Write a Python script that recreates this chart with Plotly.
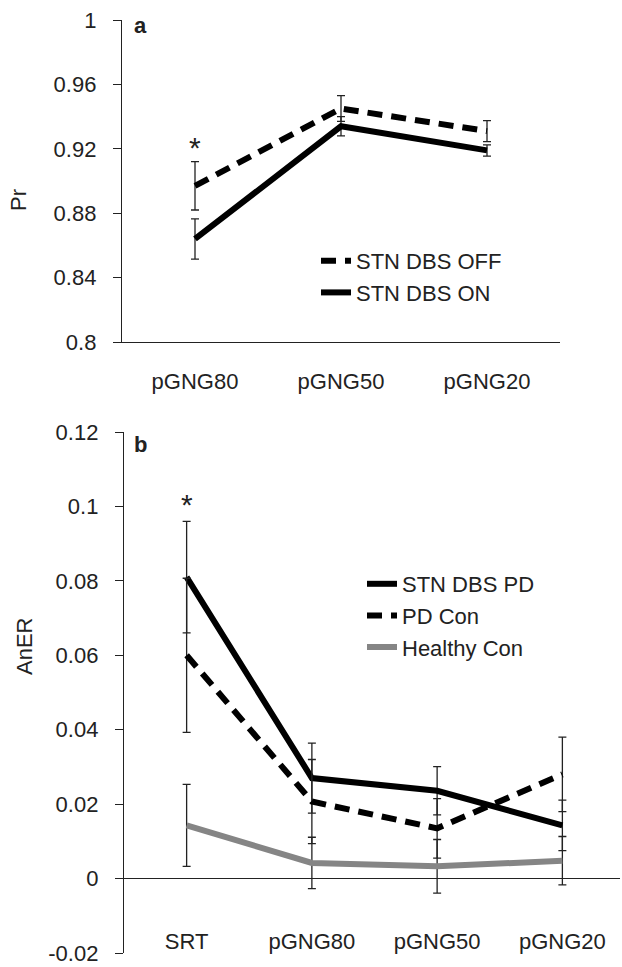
import plotly.graph_objects as go

W, H = 622, 967

# ---------------- data ----------------
cats_a = ["pGNG80", "pGNG50", "pGNG20"]
dbs_off = [0.897, 0.945, 0.931]
dbs_off_err = [0.015, 0.008, 0.0065]
dbs_on = [0.864, 0.934, 0.919]
dbs_on_err = [0.0125, 0.006, 0.0035]

cats_b = ["SRT", "pGNG80", "pGNG50", "pGNG20"]
stn_pd = [0.081, 0.027, 0.0236, 0.0143]
stn_pd_err = [0.015, 0.0094, 0.0065, 0.0068]
pd_con = [0.060, 0.0207, 0.0135, 0.028]
pd_con_err = [0.0207, 0.0113, 0.0080, 0.010]
healthy_con = [0.0143, 0.0042, 0.0033, 0.0048]
healthy_con_err = [0.011, 0.0069, 0.0072, 0.0065]

ticks_a = [0.8, 0.84, 0.88, 0.92, 0.96, 1.0]
ticktext_a = ["0.8", "0.84", "0.88", "0.92", "0.96", "1"]
ticks_b = [-0.02, 0, 0.02, 0.04, 0.06, 0.08, 0.1, 0.12]
ticktext_b = ["-0.02", "0", "0.02", "0.04", "0.06", "0.08", "0.1", "0.12"]

FONT = "Liberation Sans, Arial, sans-serif"
FS = 22
INK = "#222222"


def px(x):
    return x / W


def py(y):
    return 1 - y / H


def err(vals):
    return dict(type="data", array=vals, visible=True, color=INK,
                thickness=1.3, width=4)


fig = go.Figure()

# panel a
fig.add_trace(go.Scatter(x=cats_a, y=dbs_off, mode="lines", name="STN DBS OFF",
                         line=dict(color="black", width=6, dash="15px,9px"),
                         error_y=err(dbs_off_err), xaxis="x", yaxis="y",
                         legend="legend"))
fig.add_trace(go.Scatter(x=cats_a, y=dbs_on, mode="lines", name="STN DBS ON",
                         line=dict(color="black", width=6),
                         error_y=err(dbs_on_err), xaxis="x", yaxis="y",
                         legend="legend"))

# panel b
fig.add_trace(go.Scatter(x=cats_b, y=stn_pd, mode="lines", name="STN DBS PD",
                         line=dict(color="black", width=6),
                         error_y=err(stn_pd_err), xaxis="x2", yaxis="y2",
                         legend="legend2"))
fig.add_trace(go.Scatter(x=cats_b, y=pd_con, mode="lines", name="PD Con",
                         line=dict(color="black", width=6, dash="15px,9px"),
                         error_y=err(pd_con_err), xaxis="x2", yaxis="y2",
                         legend="legend2"))
fig.add_trace(go.Scatter(x=cats_b, y=healthy_con, mode="lines", name="Healthy Con",
                         line=dict(color="#858585", width=6),
                         error_y=err(healthy_con_err), xaxis="x2", yaxis="y2",
                         legend="legend2"))

axis_common = dict(showgrid=False, linecolor=INK, linewidth=1.3, automargin=False,
                   tickfont=dict(family=FONT, size=FS, color=INK))

fig.update_layout(
    width=W, height=H,
    margin=dict(l=0, r=0, t=0, b=0, autoexpand=False),
    paper_bgcolor="white", plot_bgcolor="white",
    font=dict(family=FONT, color=INK),
    xaxis=dict(domain=[px(122), px(560)], anchor="y", type="category",
               range=[-0.5, 2.5], showline=True, ticks="",
               ticklabelstandoff=19, **axis_common),
    yaxis=dict(domain=[py(342), py(20)], anchor="x", range=[0.8, 1.0],
               tickvals=ticks_a, ticktext=ticktext_a, showline=True,
               ticks="outside", ticklen=8, tickwidth=1.3, tickcolor=INK,
               ticklabelstandoff=12, zeroline=False, **axis_common),
    xaxis2=dict(domain=[px(124), px(620)], anchor="free", position=py(926),
                type="category", range=[-0.5, 3.46], showline=False, ticks="",
                **axis_common),
    yaxis2=dict(domain=[py(953), py(432)], anchor="x2", range=[-0.02, 0.12],
                tickvals=ticks_b, ticktext=ticktext_b, showline=True,
                ticks="outside", ticklen=8, tickwidth=1.3, tickcolor=INK,
                ticklabelstandoff=12, zeroline=True, zerolinecolor=INK,
                zerolinewidth=1.3, **axis_common),
    legend=dict(x=px(316), y=py(240), xanchor="left", yanchor="top",
                font=dict(family=FONT, size=FS, color=INK),
                bgcolor="rgba(0,0,0,0)"),
    legend2=dict(x=px(362), y=py(563), xanchor="left", yanchor="top",
                 font=dict(family=FONT, size=FS, color=INK),
                 bgcolor="rgba(0,0,0,0)"),
)


def label(text, x, y, angle=0):
    return dict(text=text, x=px(x), y=py(y), xref="paper", yref="paper",
                xanchor="center", yanchor="middle", textangle=angle,
                showarrow=False, font=dict(size=FS, family=FONT, color=INK))


annos = [
    label("<b>a</b>", 140, 25),
    label("<b>b</b>", 140, 445),
    label("Pr", 18, 200, -90),
    label("AnER", 24, 647, -90),
    dict(text="*", x=cats_a[0], y=dbs_off[0] + dbs_off_err[0], xref="x", yref="y",
         xanchor="center", yanchor="bottom", yshift=-4, showarrow=False,
         font=dict(size=30, family=FONT, color=INK)),
    dict(text="*", x=cats_b[0], y=stn_pd[0] + stn_pd_err[0], xref="x2", yref="y2",
         xanchor="center", yanchor="bottom", yshift=-2, showarrow=False,
         font=dict(size=30, family=FONT, color=INK)),
]
fig.update_layout(annotations=annos)

fig.write_html(
    "out.html",
    config={"displayModeBar": False},
    post_script=(
        "document.documentElement.style.margin='0';"
        "document.body.style.margin='0';"
        "document.documentElement.style.overflow='hidden';"
        "document.body.style.overflow='hidden';"
    ),
)
